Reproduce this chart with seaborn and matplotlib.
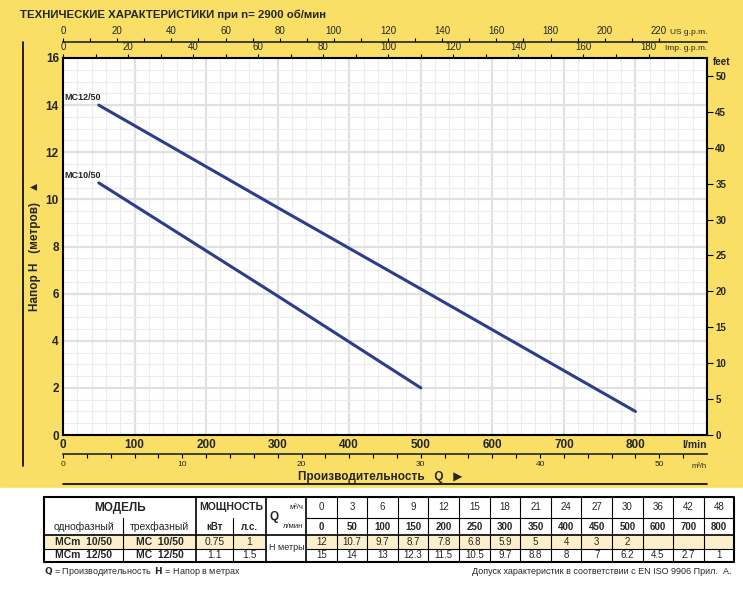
import numpy as np
import pandas as pd
import matplotlib.pyplot as plt
import seaborn as sns

# --- данные таблицы под графиком ---
q_m3h = [0, 3, 6, 9, 12, 15, 18, 21, 24, 27, 30, 36, 42, 48]
q_lmin = [0, 50, 100, 150, 200, 250, 300, 350, 400, 450, 500, 600, 700, 800]
h_mc10 = [12, 10.7, 9.7, 8.7, 7.8, 6.8, 5.9, 5, 4, 3, 2, None, None, None]
h_mc12 = [15, 14, 13, 12.3, 11.5, 10.5, 9.7, 8.8, 8, 7, 6.2, 4.5, 2.7, 1]

# --- точки кривых (кривые там почти прямые) ---
curve_names = ['MC10/50', 'MC12/50']
curve_q_mc10 = [50, 300, 500]
curve_h_mc10 = [10.7, 5.9, 2.0]
curve_q_mc12 = [50, 300, 500, 800]
curve_h_mc12 = [14.0, 9.65, 6.2, 1.0]

single_phase = ['MCm  10/50', 'MCm  12/50']
three_phase = ['MC  10/50', 'MC  12/50']
power_kw = ['0.75', '1.1']
power_hp = ['1', '1.5']

yellow = '#F9DF66'
cream = '#FCF0CC'
navy = '#2B3E8A'

sns.set_theme(style='white')
plt.rcParams['font.family'] = ['Liberation Sans', 'DejaVu Sans']

W, H = 743, 590
fig = plt.figure(figsize=(W / 100, H / 100), dpi=100, facecolor=yellow)

# оверлей в пиксельных координатах для подписей и таблицы
deco = fig.add_axes([0, 0, 1, 1])
deco.set_xlim(0, W)
deco.set_ylim(H, 0)
deco.set_axis_off()

# основной график
L, R, T, B = 63, 707, 58, 435
ax = fig.add_axes([L / W, 1 - B / H, (R - L) / W, (B - T) / H])
ax.set_facecolor('white')

rows = []
for name, qs, hs in [('MC10/50', curve_q_mc10, curve_h_mc10),
                     ('MC12/50', curve_q_mc12, curve_h_mc12)]:
    for q, v in zip(qs, hs):
        rows.append((name, q, v))
curves = pd.DataFrame(rows, columns=['model', 'q', 'h'])

sns.lineplot(data=curves, x='q', y='h', hue='model', palette=[navy, navy],
             linewidth=2.2, legend=False, estimator=None, ax=ax, zorder=5)

# подписи кривых
for name, hs in zip(curve_names, [curve_h_mc10, curve_h_mc12]):
    ax.text(2, hs[0] + 0.12, name, fontsize=6.5, fontweight='bold',
            ha='left', va='bottom', zorder=6)

ax.set_xlim(0, 900)
ax.set_ylim(0, 16)
ax.set_xlabel('')
ax.set_ylabel('')
ax.set_xticks(np.arange(0, 901, 100),
              [str(v) for v in range(0, 801, 100)] + [''],
              fontweight='bold', fontsize=8.5)
ax.set_yticks(np.arange(0, 17, 2), [str(v) for v in range(0, 17, 2)],
              fontweight='bold', fontsize=8.5)
ax.set_xticks(np.arange(0, 901, 20), minor=True)
ax.set_yticks(np.arange(0, 16.1, 0.5), minor=True)
ax.tick_params(which='both', length=0)
ax.tick_params(axis='x', pad=3)
ax.tick_params(axis='y', pad=3)
ax.grid(which='major', color='#e0e0e0', linewidth=1.6)
ax.grid(which='minor', color='#ececec', linewidth=0.8)
ax.set_axisbelow(True)
for sp in ax.spines.values():
    sp.set_color('black')
    sp.set_linewidth(1.5)

# правая шкала в футах
ft = ax.secondary_yaxis('right', functions=(lambda m: m * 3.28084, lambda f: f / 3.28084))
ft.set_yticks(np.arange(0, 51, 5), [str(v) for v in range(0, 51, 5)],
              fontweight='bold', fontsize=7)
ft.tick_params(length=4, width=0.8, pad=2, color='black')

# верхние шкалы: Imp. g.p.m. и US g.p.m.
imp = ax.secondary_xaxis('top', functions=(lambda q: q * 0.219969, lambda g: g / 0.219969))
imp.set_xticks(np.arange(0, 181, 20), [str(v) for v in range(0, 181, 20)], fontsize=7)
imp.set_xticks(np.arange(0, 181, 10), minor=True)
imp.tick_params(which='both', length=3, width=0.8, pad=1, color='black')

us = ax.secondary_xaxis(1 + 16 / (B - T), functions=(lambda q: q * 0.264172, lambda g: g / 0.264172))
us.set_xticks(np.arange(0, 221, 20), [str(v) for v in range(0, 221, 20)], fontsize=7)
us.set_xticks(np.arange(0, 221, 10), minor=True)
us.tick_params(which='both', length=3, width=0.8, pad=1, color='black')
for sp in us.spines.values():
    sp.set_linewidth(1.2)

# нижняя шкала м3/ч
m3 = ax.secondary_xaxis(-19 / (B - T), functions=(lambda q: q * 0.06, lambda v: v / 0.06))
m3.set_xticks(np.arange(0, 51, 10), [str(v) for v in range(0, 51, 10)], fontsize=6)
m3.set_xticks(np.arange(0, 53, 2), minor=True)
m3.tick_params(which='both', length=3, width=0.8, pad=2, color='black')
for sp in m3.spines.values():
    sp.set_linewidth(1.2)

# --- оформление вокруг графика ---
deco.text(20, 15, 'ТЕХНИЧЕСКИЕ ХАРАКТЕРИСТИКИ при n= 2900 об/мин',
          fontsize=8.2, fontweight='bold', ha='left', va='center')
deco.plot([23, 23], [42, 466], color='black', lw=1.2)
deco.text(35, 246, 'Напор H   (метров)   ▲', rotation=90, fontsize=8.5,
          fontweight='bold', ha='center', va='center')
deco.text(380, 477, 'Производительность   Q   ▶', fontsize=8.5,
          fontweight='bold', ha='center', va='center')
deco.plot([L, R], [484, 484], color='black', lw=1.2)
deco.text(R, 33, 'US g.p.m.', fontsize=6, ha='right', va='center')
deco.text(R, 49, 'Imp. g.p.m.', fontsize=6, ha='right', va='center')
deco.text(722, 62, 'feet', fontsize=7, fontweight='bold', ha='center', va='center')
deco.text(R, 445, 'l/min', fontsize=7.5, fontweight='bold', ha='right', va='center')
deco.text(R, 466, 'm³/h', fontsize=5.5, ha='right', va='center')

# белая подложка под таблицу
deco.add_patch(plt.Rectangle((0, 488), W, H - 488, color='white', zorder=0))

# --- таблица ---
x0, xs1, xm, xp1, xq, xd = 44, 123, 196, 233, 266, 306
cw = 30.6
xend = xd + cw * len(q_m3h)
y0, y1, y2, y3, y4 = 497, 518, 535, 548.5, 562
rc = [(y0 + y1) / 2, (y1 + y2) / 2, (y2 + y3) / 2, (y3 + y4) / 2]

deco.add_patch(plt.Rectangle((x0, y2), xq - x0, y3 - y2, color=cream, zorder=1, lw=0))
deco.add_patch(plt.Rectangle((xd, y2), xend - xd, y3 - y2, color=cream, zorder=1, lw=0))

lk = dict(color='black', lw=0.8, zorder=3)
deco.plot([x0, xend, xend, x0, x0], [y0, y0, y4, y4, y0], color='black', lw=1.5, zorder=4)
deco.plot([x0, xend], [y2, y2], color='black', lw=1.2, zorder=3)
deco.plot([x0, xq], [y3, y3], **lk)
deco.plot([xd, xend], [y3, y3], **lk)
deco.plot([xd, xend], [y1, y1], **lk)
for x in [xm, xq, xd]:
    deco.plot([x, x], [y0, y4], color='black', lw=1.2, zorder=3)
for x in [xs1, xp1]:
    deco.plot([x, x], [y1, y4], **lk)
for i in range(1, len(q_m3h)):
    xx = xd + cw * i
    deco.plot([xx, xx], [y0, y4], **lk)

tk = dict(ha='center', va='center', zorder=5)
deco.text((x0 + xm) / 2, rc[0], 'МОДЕЛЬ', fontsize=8.5, fontweight='bold', **tk)
deco.text((xm + xq) / 2, rc[0], 'МОЩНОСТЬ', fontsize=7.5, fontweight='bold', **tk)
deco.text((x0 + xs1) / 2, rc[1], 'однофазный', fontsize=7.5, **tk)
deco.text((xs1 + xm) / 2, rc[1], 'трехфазный', fontsize=7.5, **tk)
deco.text((xm + xp1) / 2, rc[1], 'кВт', fontsize=7, fontweight='bold', **tk)
deco.text((xp1 + xq) / 2, rc[1], 'л.с.', fontsize=7, fontweight='bold', **tk)
deco.text(xq + 3, y1 - 1, 'Q', fontsize=8.5, fontweight='bold', ha='left', va='center', zorder=5)
deco.text(xd - 3, rc[0], 'м³/ч', fontsize=5.5, ha='right', va='center', zorder=5)
deco.text(xd - 3, rc[1], 'л/мин', fontsize=5.5, ha='right', va='center', zorder=5)
deco.text(xq + 3, y3 - 1, 'Н метры', fontsize=6.5, ha='left', va='center', zorder=5)

for r, (s1, s3, kw, hp) in enumerate(zip(single_phase, three_phase, power_kw, power_hp)):
    yc = rc[2 + r]
    deco.text((x0 + xs1) / 2, yc, s1, fontsize=7.5, fontweight='bold', **tk)
    deco.text((xs1 + xm) / 2, yc, s3, fontsize=7.5, fontweight='bold', **tk)
    deco.text((xm + xp1) / 2, yc, kw, fontsize=7.5, **tk)
    deco.text((xp1 + xq) / 2, yc, hp, fontsize=7.5, **tk)

for i, (qm, ql, a, b) in enumerate(zip(q_m3h, q_lmin, h_mc10, h_mc12)):
    xc = xd + cw * (i + 0.5)
    deco.text(xc, rc[0], str(qm), fontsize=7, **tk)
    deco.text(xc, rc[1], str(ql), fontsize=7, fontweight='bold', **tk)
    if a is not None:
        deco.text(xc, rc[2], f'{a:g}', fontsize=7, **tk)
    deco.text(xc, rc[3], f'{b:g}', fontsize=7, **tk)

deco.text(x0, 572, r'$\mathbf{Q}$ = Производительность  $\mathbf{H}$ = Напор в метрах',
          fontsize=6.5, ha='left', va='center')
deco.text(731, 572, 'Допуск характеристик в соответствии с EN ISO 9906 Прил.  А.',
          fontsize=6.5, ha='right', va='center')

fig.savefig('out.png', dpi=100, facecolor=yellow)
